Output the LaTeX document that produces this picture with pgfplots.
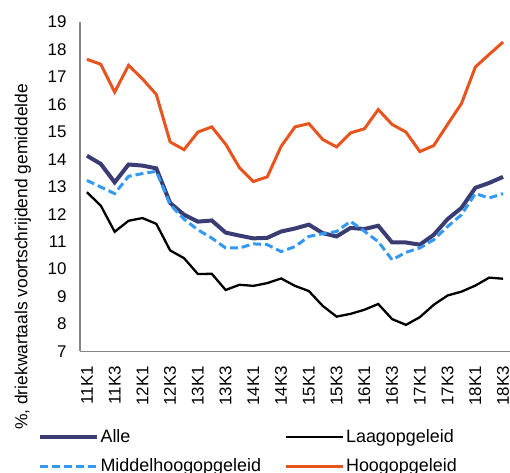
\documentclass[border=0pt]{standalone}
\usepackage{fontspec}
\setmainfont{Liberation Sans}
\usepackage{pgfplots}
\pgfplotsset{compat=1.18}
\definecolor{alle}{HTML}{393D73}
\definecolor{middel}{HTML}{3399F3}
\definecolor{hoog}{HTML}{E8541E}
\definecolor{axgray}{HTML}{868686}
\begin{document}
\begin{tikzpicture}[x=1bp,y=1bp]
\begin{axis}[
  at={(80bp,121.5bp)}, anchor=south west,
  scale only axis, width=430bp, height=329.5bp,
  xmin=-0.5, xmax=30.5, ymin=7, ymax=19,
  axis x line*=bottom, axis y line*=left,
  axis line style={axgray, line width=1.3bp, -},
  ytick={7,8,...,19},
  xtick={0,2,...,30},
  xticklabels={11K1,11K3,12K1,12K3,13K1,13K3,14K1,14K3,15K1,15K3,16K1,16K3,17K1,17K3,18K1,18K3},
  major tick length=0pt,
  tick style={draw=none},
  /pgf/number format/assume math mode=true,
  ticklabel style={font=\fontsize{17}{20}\selectfont},
  yticklabel style={xshift=-10bp},
  xticklabel style={yshift=-11bp, rotate=90, anchor=east},
  ylabel={\%, driekwartaals voortschrijdend gemiddelde},
  ylabel style={at={(axis description cs:-0.1326,0.287)}, anchor=center, font=\fontsize{17.5}{20}\selectfont},
  legend columns=2,
  legend cell align=left,
  legend style={at={(axis description cs:-0.105,-0.3035)}, anchor=west, draw=none, fill=none,
    font=\fontsize{18}{21}\selectfont, row sep=13bp,
    nodes={inner xsep=1.5bp, inner ysep=1bp},
    /tikz/every even column/.append style={column sep=22bp}},
  legend image code/.code={\draw[#1] (0bp,0bp) -- (57bp,0bp);},
]
\addplot[alle, line width=4bp] coordinates {
(0,14.13)(1,13.83)(2,13.16)(3,13.81)(4,13.77)(5,13.67)(6,12.41)(7,11.98)(8,11.73)(9,11.77)
(10,11.33)(11,11.22)(12,11.12)(13,11.14)(14,11.37)(15,11.48)(16,11.62)(17,11.31)(18,11.19)(19,11.50)
(20,11.46)(21,11.58)(22,10.97)(23,10.97)(24,10.89)(25,11.25)(26,11.82)(27,12.23)(28,12.96)(29,13.14)(30,13.36)};
\addlegendentry{Alle}
\addplot[black, line width=2.3bp] coordinates {
(0,12.80)(1,12.31)(2,11.36)(3,11.76)(4,11.86)(5,11.65)(6,10.68)(7,10.40)(8,9.82)(9,9.83)
(10,9.24)(11,9.43)(12,9.39)(13,9.49)(14,9.66)(15,9.39)(16,9.20)(17,8.66)(18,8.27)(19,8.37)
(20,8.52)(21,8.73)(22,8.18)(23,7.97)(24,8.25)(25,8.70)(26,9.04)(27,9.18)(28,9.40)(29,9.69)(30,9.65)};
\addlegendentry{Laagopgeleid}
\addplot[middel, line width=3bp, dash pattern=on 8bp off 4bp] coordinates {
(0,13.23)(1,12.99)(2,12.75)(3,13.38)(4,13.48)(5,13.56)(6,12.35)(7,11.82)(8,11.43)(9,11.13)
(10,10.77)(11,10.77)(12,10.92)(13,10.89)(14,10.64)(15,10.82)(16,11.19)(17,11.29)(18,11.37)(19,11.74)
(20,11.38)(21,11.00)(22,10.34)(23,10.61)(24,10.77)(25,11.07)(26,11.55)(27,11.98)(28,12.75)(29,12.59)(30,12.75)};
\addlegendentry{Middelhoogopgeleid}
\addplot[hoog, line width=3bp] coordinates {
(0,17.64)(1,17.46)(2,16.45)(3,17.42)(4,16.93)(5,16.36)(6,14.63)(7,14.35)(8,14.99)(9,15.18)
(10,14.55)(11,13.69)(12,13.19)(13,13.36)(14,14.47)(15,15.18)(16,15.30)(17,14.72)(18,14.45)(19,14.96)
(20,15.11)(21,15.81)(22,15.27)(23,14.99)(24,14.28)(25,14.50)(26,15.27)(27,16.03)(28,17.36)(29,17.82)(30,18.27)};
\addlegendentry{Hoogopgeleid}
\end{axis}
\pgfresetboundingbox
\useasboundingbox (0,0) rectangle (510,473);
\end{tikzpicture}
\end{document}
